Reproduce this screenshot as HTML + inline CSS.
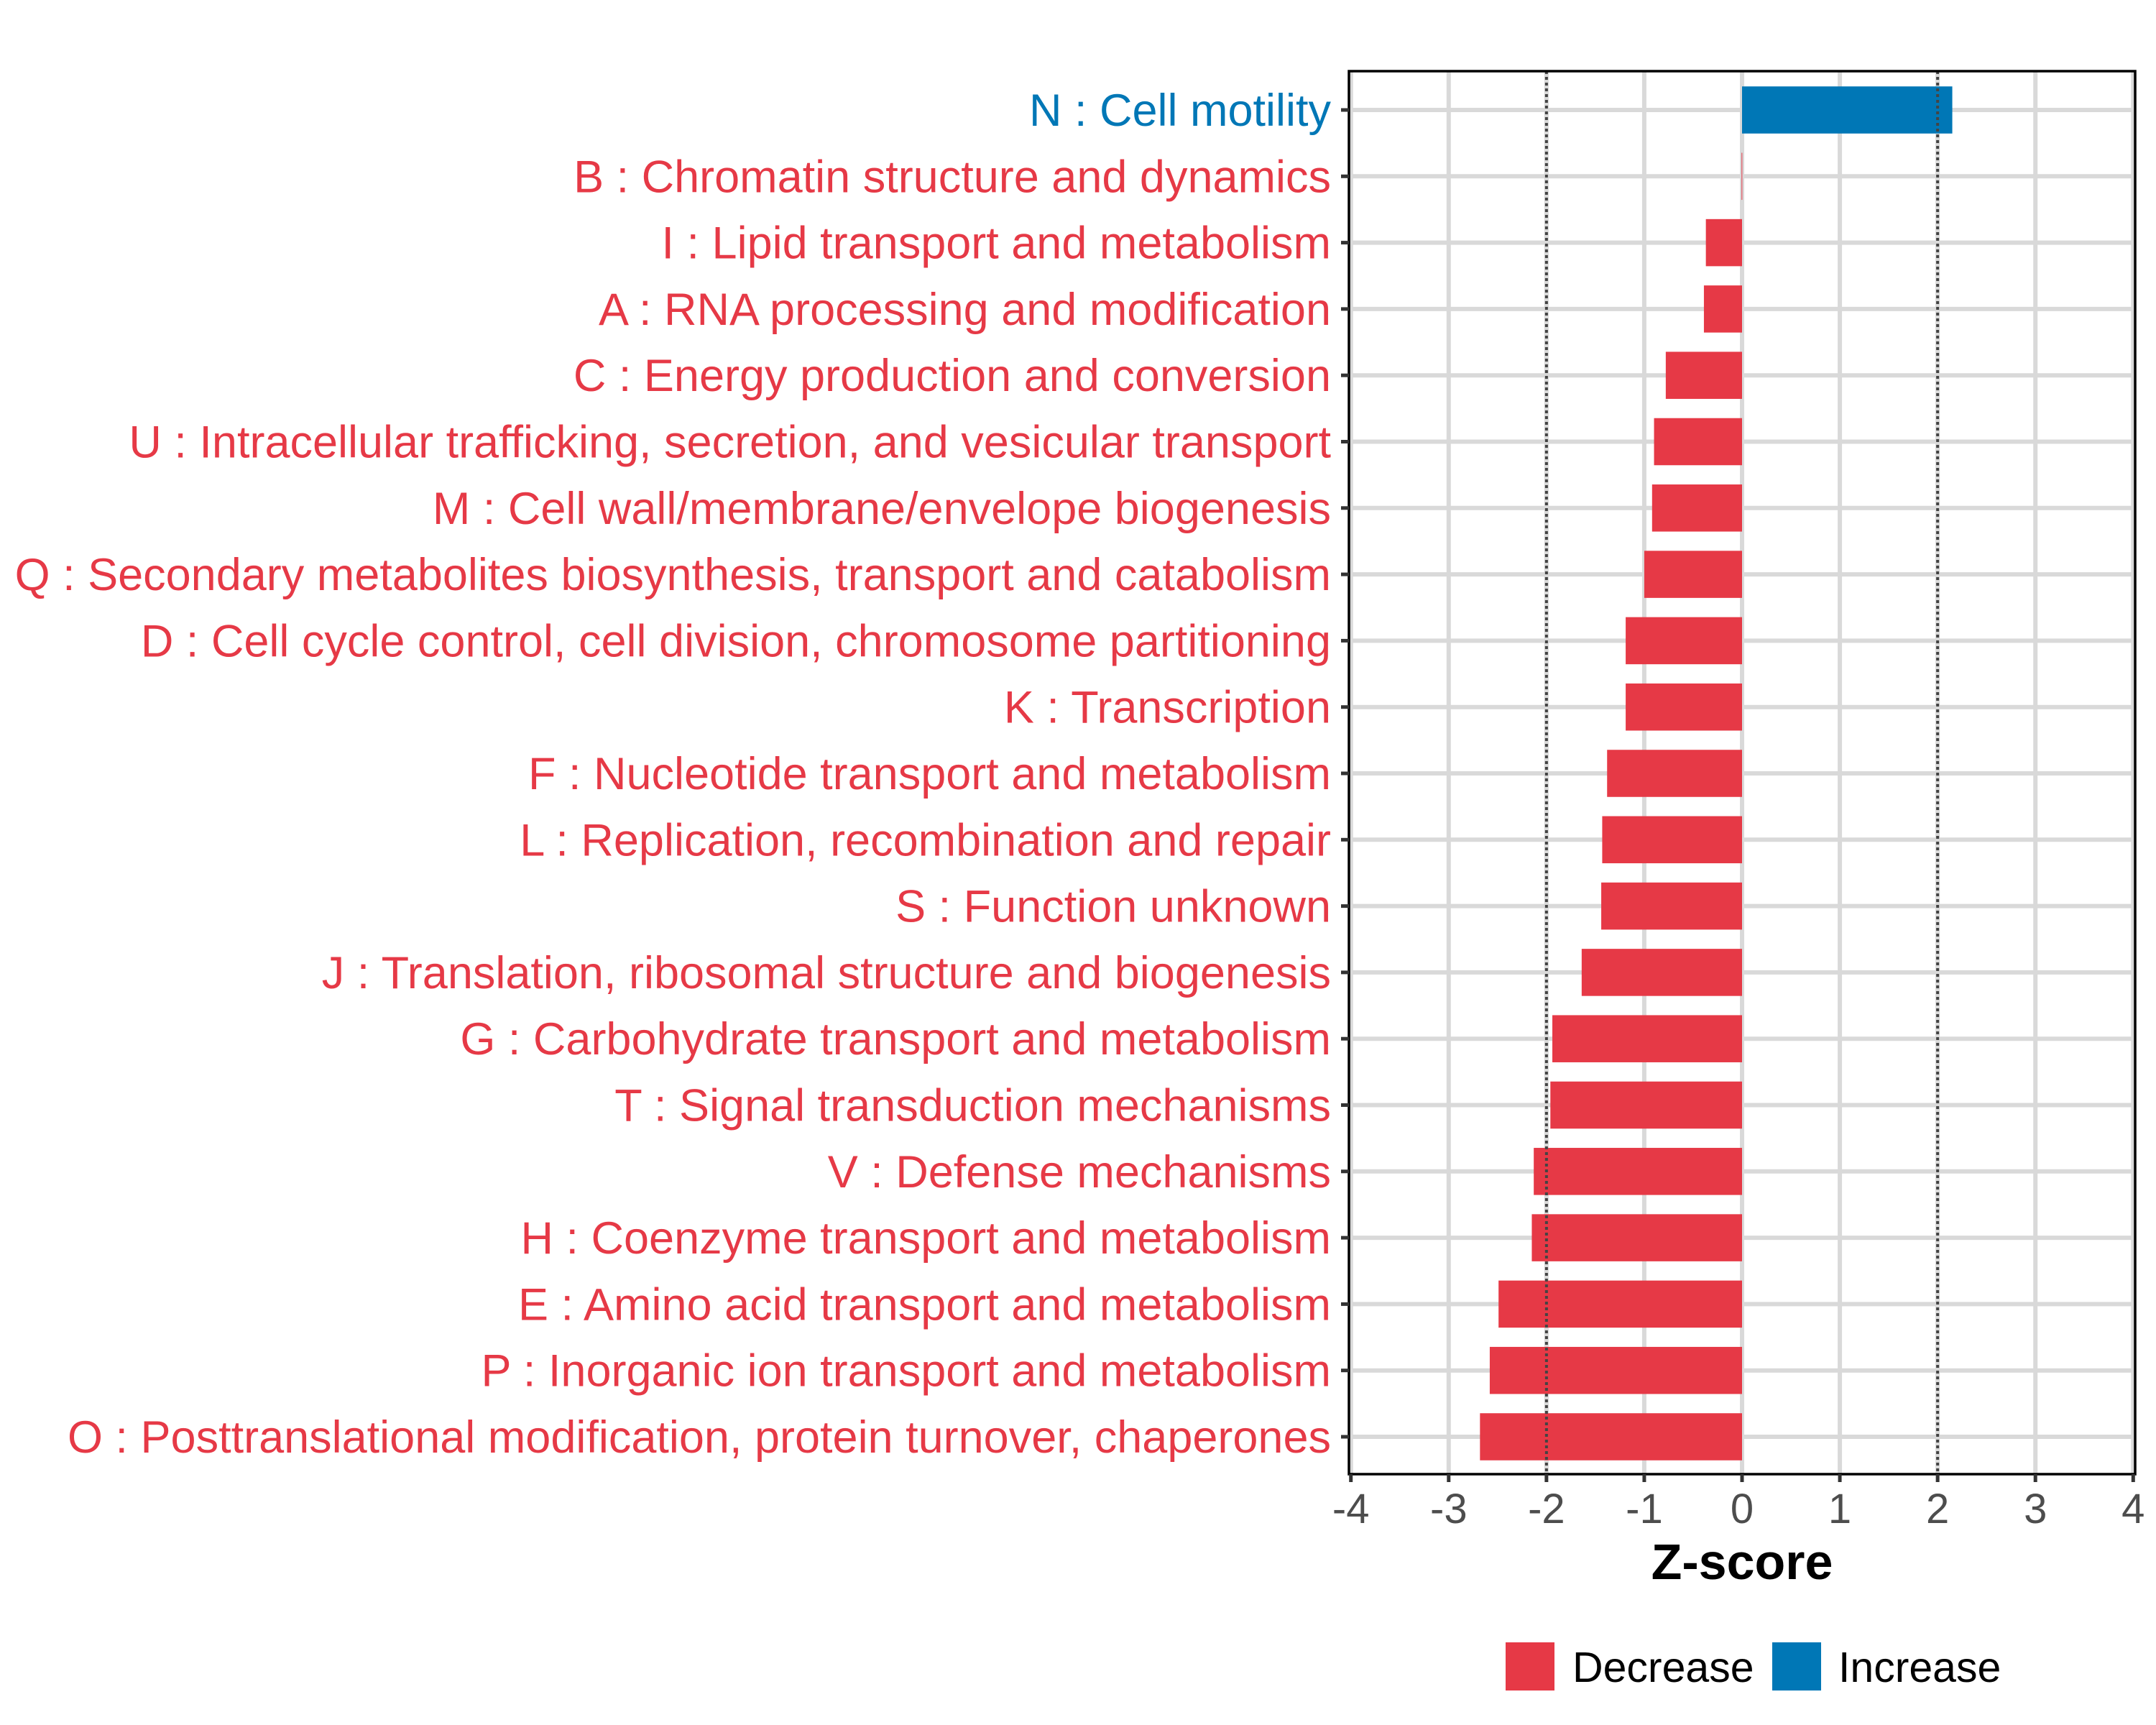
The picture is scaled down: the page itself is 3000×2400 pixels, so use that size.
<!DOCTYPE html>
<html><head><meta charset="utf-8"><style>
html,body{margin:0;padding:0;background:#fff;}
svg{display:block;font-family:"Liberation Sans",sans-serif;}
</style></head><body>
<svg id="chart" width="3000" height="2400" viewBox="0 0 3000 2400"></svg>
<script>
const categories = ["N : Cell motility","B : Chromatin structure and dynamics","I : Lipid transport and metabolism","A : RNA processing and modification","C : Energy production and conversion","U : Intracellular trafficking, secretion, and vesicular transport","M : Cell wall/membrane/envelope biogenesis","Q : Secondary metabolites biosynthesis, transport and catabolism","D : Cell cycle control, cell division, chromosome partitioning","K : Transcription","F : Nucleotide transport and metabolism","L : Replication, recombination and repair","S : Function unknown","J : Translation, ribosomal structure and biogenesis","G : Carbohydrate transport and metabolism","T : Signal transduction mechanisms","V : Defense mechanisms","H : Coenzyme transport and metabolism","E : Amino acid transport and metabolism","P : Inorganic ion transport and metabolism","O : Posttranslational modification, protein turnover, chaperones"];
const zscores = [2.15,-0.005,-0.37,-0.39,-0.78,-0.9,-0.92,-1.0,-1.19,-1.19,-1.38,-1.43,-1.44,-1.64,-1.94,-1.96,-2.13,-2.15,-2.49,-2.58,-2.68];
const xTicks = [-4,-3,-2,-1,0,1,2,3,4];
const thresholds = [-2,2];
const legendLabels = ["Decrease","Increase"];

const NS="http://www.w3.org/2000/svg";
const svg=document.getElementById('chart');
const RED="#E63946", BLUE="#0077B6";
const PL=1877, PR=2971, PT=99, PB=2051;
const xMin=-4.02, xMax=4.02;
const X=v=>PL+(v-xMin)/(xMax-xMin)*(PR-PL);
const step=92.3, y0=153;
const Y=i=>y0+i*step;
function mk(tag,attrs,parent){const e=document.createElementNS(NS,tag);for(const k in attrs)e.setAttribute(k,attrs[k]);(parent||svg).appendChild(e);return e;}

const grid=mk('g',{});


xTicks.forEach(t=>{const l=mk('line',{x1:X(t),x2:X(t),y1:PT,y2:PB,stroke:'#d9d9d9','stroke-width':6},grid);

});
categories.forEach((c,i)=>{const l=mk('line',{x1:PL,x2:PR,y1:Y(i),y2:Y(i),stroke:'#d9d9d9','stroke-width':6},grid);

});

const bars=mk('g',{});


const bh=step*0.71;
zscores.forEach((v,i)=>{const x1=Math.min(X(0),X(v)),w=Math.max(Math.abs(X(v)-X(0)),1);
const r=mk('rect',{x:x1,y:Y(i)-bh/2,width:w,height:bh,fill:v>=0?BLUE:RED},bars);

});

thresholds.forEach(t=>{const l=mk('line',{x1:X(t),x2:X(t),y1:PT,y2:PB,stroke:'#444','stroke-width':4,'stroke-dasharray':'4 4'});

});

const border=mk('rect',{x:PL,y:PT,width:PR-PL,height:PB-PT,fill:'none',stroke:'#000','stroke-width':3.5});



const yl=mk('g',{});


categories.forEach((c,i)=>{
const tk=mk('line',{x1:PL-11,x2:PL,y1:Y(i),y2:Y(i),stroke:'#333','stroke-width':5},yl);


const t=mk('text',{x:1852,y:Y(i)+22,'text-anchor':'end','font-size':63,fill:zscores[i]>=0?BLUE:RED},yl);
t.textContent=c;

});

const xl=mk('g',{});


xTicks.forEach(t=>{
const tk=mk('line',{x1:X(t),x2:X(t),y1:PB,y2:PB+11,stroke:'#333','stroke-width':5},xl);


const tx=mk('text',{x:X(t),y:2119,'text-anchor':'middle','font-size':58,fill:'#4d4d4d'},xl);
tx.textContent=String(t);

});
const xt=mk('text',{x:X(0),y:2197,'text-anchor':'middle','font-size':70,'font-weight':'bold',fill:'#000'});
xt.textContent='Z-score';



const lg=mk('g',{});


const lx=[2095,2466],tx2=[2188,2558],cols=[RED,BLUE];
legendLabels.forEach((l,i)=>{
const r=mk('rect',{x:lx[i],y:2285,width:68,height:67,fill:cols[i]},lg);


const t=mk('text',{x:tx2[i],y:2340,'font-size':59,fill:'#000'},lg);
t.textContent=l;

});
</script>
</body></html>
